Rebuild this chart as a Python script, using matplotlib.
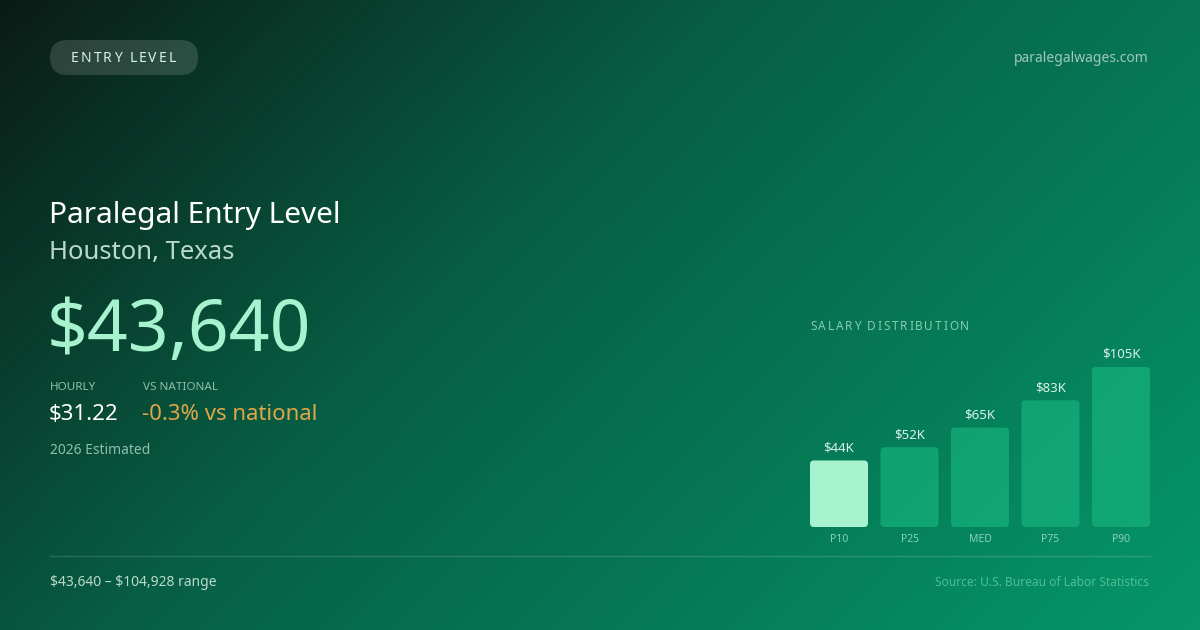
import numpy as np
import matplotlib
matplotlib.use("Agg")
import matplotlib.pyplot as plt
from matplotlib.colors import LinearSegmentedColormap
from matplotlib.patches import FancyBboxPatch

plt.rcParams['font.family'] = ['Noto Sans', 'DejaVu Sans']
plt.rcParams['text.parse_math'] = False

# données
categories = ["P10", "P25", "MED", "P75", "P90"]
salaries = [43640, 52300, 65200, 83100, 104928]
bar_labels = ["$44K", "$52K", "$65K", "$83K", "$105K"]

title = "Paralegal Entry Level"
location = "Houston, Texas"
annual = "$43,640"
hourly = "$31.22"
vs_national = "-0.3% vs national"
badge = "ENTRY LEVEL"
site = "paralegalwages.com"
range_txt = "$43,640 \u2013 $104,928 range"
source = "Source: U.S. Bureau of Labor Statistics"

W, H = 1200, 630
fig = plt.figure(figsize=(12, 6.3), dpi=100)

# fond en dégradé (135deg)
bg = fig.add_axes([0, 0, 1, 1])
bg.set_xlim(0, W)
bg.set_ylim(H, 0)
bg.axis('off')
xx, yy = np.meshgrid(np.linspace(0, W, 300), np.linspace(0, H, 160))
t = (xx + yy) / (W + H)
cmap = LinearSegmentedColormap.from_list(
    "bg", [(0.0, "#0b1c16"), (0.4, "#075e44"), (1.0, "#059669")])
bg.imshow(t, cmap=cmap, extent=[0, W, H, 0], aspect='auto', zorder=0)

renderer = fig.canvas.get_renderer()


def spaced(ax, x, y, s, gap, **kw):
    """texte avec espacement des lettres (en px)"""
    for ch in s:
        tx = ax.text(x, y, ch, ha='left', va='center', **kw)
        w = tx.get_window_extent(renderer).width
        if ch == " ":
            w = kw.get("fontsize", 10) * 100 / 72 * 0.26
        x += w + gap


# badge
pill = FancyBboxPatch((50, 40), 148, 35,
                      boxstyle="round,pad=0,rounding_size=17.5",
                      fc="white", alpha=0.14, ec="none", zorder=2)
bg.add_patch(pill)
spaced(bg, 71, 59, badge, 2.0, fontsize=10, color="#d8f3e7", zorder=3)

bg.text(1149, 59, site, ha='right', va='center', fontsize=10, color="#9cc9b8")

bg.text(49, 216, title, ha='left', va='center', fontsize=21.5, color="white")
bg.text(49, 253, location, ha='left', va='center', fontsize=18.5, color="#b9d9cb")
bg.text(47, 332, annual, ha='left', va='center', fontsize=51.5, color="#a7f3d0")

bg.text(50, 388, "HOURLY", ha='left', va='center', fontsize=8.4, color="#8dbfad")
bg.text(143, 388, "VS NATIONAL", ha='left', va='center', fontsize=8.4, color="#8dbfad")
bg.text(49, 415, hourly, ha='left', va='center', fontsize=16, color="white")
bg.text(142, 415, vs_national, ha='left', va='center', fontsize=16, color="#e2a64a")
bg.text(50, 450, "2026 Estimated", ha='left', va='center', fontsize=10, color="#8dbfad")

bg.plot([50, 1150], [556, 556], color="white", alpha=0.14, lw=1)
bg.text(50, 582, range_txt, ha='left', va='center', fontsize=10, color="#b9d9cb")
bg.text(1149, 582, source, ha='right', va='center', fontsize=8.6, color="#4fbf95")

spaced(bg, 810, 326, "SALARY DISTRIBUTION", 1.8, fontsize=8.5, color="#86cdb0")

# histogramme
ax = fig.add_axes([810 / W, 1 - 527 / H, 340 / W, 160 / H])
ax.patch.set_alpha(0)
ax.axis('off')
wbar = 58 / 70.5
x = np.arange(len(categories))
vmax = max(salaries)
ax.set_xlim(-wbar / 2, len(categories) - 1 + wbar / 2)
ax.set_ylim(0, vmax)

xpp = (len(categories) - 1 + wbar) / 340
ypp = vmax / 160
bars = ax.bar(x, salaries, width=wbar, alpha=0)
for i, b in enumerate(bars):
    col = "#a7f3d0" if i == 0 else "#14b07a"
    al = 1.0 if i == 0 else 0.75
    p = FancyBboxPatch((b.get_x(), b.get_y()), b.get_width(), b.get_height(),
                       boxstyle="round,pad=0,rounding_size=%f" % (4 * xpp),
                       mutation_aspect=ypp / xpp, fc=col, ec="none", alpha=al)
    ax.add_patch(p)
    ax.annotate(bar_labels[i], (b.get_x() + b.get_width() / 2, b.get_height()),
                xytext=(0, 6), textcoords='offset pixels', ha='center', va='bottom',
                fontsize=9.5, color="#d8f3e7", annotation_clip=False)
    ax.annotate(categories[i], (b.get_x() + b.get_width() / 2, 0),
                xytext=(0, -12), textcoords='offset pixels', ha='center', va='center',
                fontsize=7.5, color="#86d4b4", annotation_clip=False)

fig.savefig("out.png", dpi=100)
